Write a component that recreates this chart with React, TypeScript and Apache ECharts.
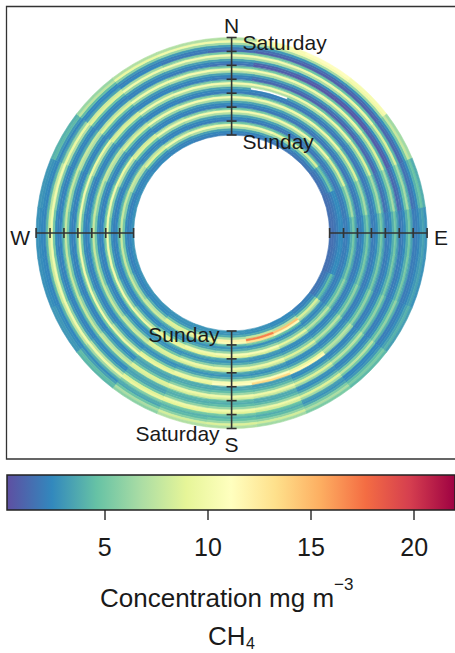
import React, { useEffect, useRef } from "react";
import * as echarts from "echarts";

// ---- data ----
const days = ["Sunday", "Monday", "Tuesday", "Wednesday", "Thursday", "Friday", "Saturday"];
const directions = [0, 15, 30, 45, 60, 75, 90, 105, 120, 135, 150, 165, 180, 195, 210, 225, 240, 255, 270, 285, 300, 315, 330, 345];
const compassLabels = ["N", "E", "S", "W"];
const compassAngles = [0, 90, 180, 270];
const colourTicks = [5, 10, 15, 20];
const colourMin = 0.26;
const colourMax = 21.98;
const spectral = ["#5E4FA2", "#3288BD", "#66C2A5", "#ABDDA4", "#E6F598", "#FFFFBF", "#FEE08B", "#FDAE61", "#F46D43", "#D53E4F", "#9E0142"];

// rows of values, one per direction (N, clockwise); six rows per day, inner -> outer
const troughAfterBright = [2.0, 1.9, 1.8, 1.8, 1.8, 1.9, 2.0, 2.0, 2.1, 2.3, 2.7, 3.2, 3.6, 3.8, 4.0, 4.4, 4.8, 5.0, 5.0, 4.8, 4.0, 3.0, 2.4, 2.1];
const troughAfterFaint = [2.0, 1.9, 1.8, 1.8, 1.8, 1.9, 2.0, 2.0, 2.1, 2.3, 2.7, 3.2, 3.6, 3.7, 3.8, 4.0, 4.2, 4.3, 4.3, 4.2, 3.7, 2.9, 2.4, 2.1];
const rising2 = [2.3, 2.2, 2.0, 2.0, 2.0, 2.0, 2.0, 2.0, 2.1, 2.3, 2.5, 2.7, 2.8, 2.8, 2.7, 2.5, 2.4, 2.4, 2.4, 2.4, 2.3, 2.2, 2.2, 2.3];
const rising3 = [3.4, 3.4, 3.3, 3.2, 3.0, 2.8, 2.5, 2.5, 2.7, 3.0, 3.3, 3.6, 3.7, 3.5, 3.0, 2.5, 2.2, 2.1, 2.1, 2.1, 2.3, 2.7, 3.1, 3.3];
const rising4 = [7.0, 7.0, 6.8, 6.5, 5.8, 4.8, 3.8, 3.8, 4.4, 5.2, 5.8, 6.2, 6.3, 5.9, 5.0, 3.8, 3.1, 2.7, 2.6, 2.8, 3.5, 4.8, 6.2, 6.8];
const peak5 = [10.3, 10.3, 10.0, 9.7, 8.6, 6.6, 5.0, 5.2, 6.0, 7.4, 8.7, 9.8, 10.0, 9.8, 8.8, 7.2, 6.0, 5.2, 5.0, 5.6, 7.0, 8.8, 10.0, 10.3];
const peakBright6 = [5.0, 5.0, 4.8, 4.6, 4.2, 3.8, 3.4, 3.5, 4.0, 5.0, 6.5, 8.2, 8.8, 9.0, 9.4, 9.8, 10.0, 10.0, 10.0, 10.0, 9.5, 8.0, 6.5, 5.5];
const peakFaint6 = [5.0, 5.0, 4.8, 4.6, 4.2, 3.8, 3.4, 3.5, 4.0, 5.0, 6.3, 7.8, 8.2, 8.4, 8.3, 8.0, 7.8, 7.8, 7.8, 7.8, 7.8, 7.2, 6.2, 5.5];

const sunday = [
  [2.0, 1.9, 1.8, 1.7, 1.6, 1.5, 1.5, 1.5, 1.7, 2.1, 2.5, 2.8, 2.9, 2.9, 2.9, 2.9, 2.9, 2.9, 2.9, 2.9, 2.7, 2.5, 2.3, 2.1],
  [2.3, 2.2, 2.0, 1.9, 1.7, 1.5, 1.5, 1.5, 1.7, 2.2, 2.5, 2.7, 2.8, 2.8, 2.7, 2.5, 2.4, 2.4, 2.4, 2.4, 2.3, 2.2, 2.2, 2.3],
  [3.4, 3.4, 3.2, 2.8, 2.0, 1.7, 1.7, 1.7, 2.0, 2.9, 3.3, 3.6, 3.7, 3.5, 3.0, 2.5, 2.2, 2.1, 2.1, 2.1, 2.3, 2.7, 3.1, 3.3],
  [7.0, 7.0, 6.5, 5.5, 3.2, 2.0, 2.0, 2.0, 3.0, 5.2, 7.0, 7.8, 7.0, 5.9, 5.0, 3.8, 3.1, 2.7, 2.6, 2.8, 3.5, 4.8, 6.2, 6.8],
  [10.3, 10.3, 9.5, 8.5, 5.0, 2.5, 2.5, 2.5, 4.5, 8.5, 14.5, 17.0, 12.0, 9.8, 8.8, 7.2, 6.0, 5.2, 5.0, 5.6, 7.0, 8.8, 10.0, 10.3],
  [5.0, 5.0, 4.6, 4.2, 3.2, 2.5, 2.5, 2.5, 3.2, 6.5, 11.5, 13.0, 10.5, 8.4, 8.3, 8.0, 7.8, 7.8, 7.8, 7.8, 7.8, 7.2, 6.2, 5.5],
];
const monday = [
  [2.0, 1.9, 1.8, 1.8, 1.8, 1.9, 2.0, 2.0, 2.1, 3.0, 4.5, 5.0, 4.2, 3.8, 3.8, 4.0, 4.2, 4.3, 4.3, 4.2, 3.7, 2.9, 2.4, 2.1],
  rising2,
  rising3,
  rising4,
  [10.3, 10.3, 10.0, 9.7, 8.6, 6.6, 5.0, 5.2, 6.0, 7.4, 9.2, 10.5, 10.5, 10.0, 8.8, 7.2, 6.0, 5.2, 5.0, 5.6, 7.0, 8.8, 10.0, 10.3],
  peakBright6,
];
const tuesday = [troughAfterBright, rising2, rising3, rising4, peak5, peakFaint6];
const wednesday = [
  troughAfterFaint,
  rising2,
  [3.4, null, 3.3, 3.2, 3.0, 2.8, 2.5, 2.5, 2.7, 3.0, 3.3, 3.6, 3.7, 3.5, 3.0, 2.5, 2.2, 2.1, 2.1, 2.1, 2.3, 2.7, 3.1, 3.3],
  rising4,
  [10.3, 10.3, 10.0, 9.7, 8.6, 6.6, 5.0, 5.2, 6.0, 7.4, 9.5, 11.0, 10.5, 9.8, 8.8, 7.2, 6.0, 5.2, 5.0, 5.6, 7.0, 8.8, 10.0, 10.3],
  [5.0, 5.0, 4.8, 4.6, 4.2, 3.8, 3.4, 3.5, 4.0, 6.0, 11.5, 13.5, 11.0, 9.2, 9.4, 9.8, 10.0, 10.0, 10.0, 10.0, 9.5, 8.0, 6.5, 5.5],
];
const thursday = [
  [1.9, 1.2, 1.0, 1.0, 1.2, 1.5, 2.0, 2.0, 2.1, 2.3, 2.7, 3.2, 3.6, 3.8, 4.0, 4.4, 4.8, 5.0, 5.0, 4.8, 4.0, 3.0, 2.4, 2.1],
  [2.2, 1.7, 1.5, 1.5, 1.6, 1.9, 2.0, 2.0, 2.1, 2.3, 2.5, 3.4, 3.6, 3.6, 3.3, 2.5, 2.4, 2.4, 2.4, 2.4, 2.3, 2.2, 2.2, 2.3],
  [3.4, 3.3, 3.1, 3.0, 2.9, 2.8, 2.5, 2.5, 2.7, 3.0, 3.6, 4.2, 4.4, 4.2, 3.5, 2.5, 2.2, 2.1, 2.1, 2.1, 2.3, 2.7, 3.1, 3.3],
  rising4,
  peak5,
  peakFaint6,
];
const friday = [
  [1.6, 0.8, 0.6, 0.6, 0.8, 1.2, 1.9, 2.0, 2.1, 2.3, 2.8, 3.8, 4.2, 4.3, 4.0, 4.0, 4.2, 4.3, 4.3, 4.2, 3.7, 2.9, 2.3, 2.0],
  [2.0, 1.1, 0.9, 0.9, 1.1, 1.5, 2.0, 2.0, 2.1, 2.3, 2.6, 3.6, 3.8, 3.8, 3.4, 2.5, 2.4, 2.4, 2.4, 2.4, 2.3, 2.2, 2.2, 2.2],
  [3.4, 3.2, 2.8, 2.7, 2.6, 2.6, 2.5, 2.5, 2.7, 3.0, 3.6, 4.2, 4.4, 4.2, 3.5, 2.5, 2.2, 2.1, 2.1, 2.1, 2.3, 2.7, 3.1, 3.3],
  rising4,
  peak5,
  peakBright6,
];
const saturday = [
  [1.4, 1.0, 0.9, 1.0, 1.2, 1.6, 2.0, 2.0, 2.1, 2.4, 3.3, 4.6, 5.0, 5.0, 5.5, 6.5, 7.5, 8.0, 8.0, 7.5, 6.0, 3.5, 2.4, 1.9],
  [1.9, 1.5, 1.3, 1.3, 1.5, 1.8, 2.0, 2.0, 2.1, 2.4, 2.8, 3.8, 4.0, 4.0, 3.8, 3.8, 4.0, 4.2, 4.2, 4.0, 3.3, 2.4, 2.1, 2.0],
  [3.2, 3.0, 2.9, 2.8, 2.7, 2.5, 2.3, 2.3, 2.6, 3.0, 3.5, 4.3, 4.6, 4.3, 3.5, 2.6, 2.4, 2.3, 2.3, 2.3, 2.3, 2.5, 3.0, 3.1],
  [6.5, 6.8, 6.6, 6.2, 5.2, 4.0, 3.0, 3.0, 3.4, 4.4, 5.4, 6.0, 6.2, 5.8, 4.8, 3.3, 2.6, 2.4, 2.4, 2.5, 3.0, 4.5, 5.8, 6.3],
  [10.0, 10.3, 10.3, 9.8, 7.8, 4.8, 3.4, 3.4, 4.0, 5.3, 6.8, 8.2, 8.6, 8.3, 6.8, 4.4, 3.0, 2.6, 2.6, 2.8, 4.3, 7.5, 9.5, 10.0],
  [7.0, 10.5, 11.0, 10.3, 6.5, 3.8, 2.8, 2.8, 3.3, 4.3, 5.3, 6.5, 7.0, 7.0, 5.8, 4.2, 3.0, 2.8, 2.8, 3.0, 4.0, 6.2, 7.0, 7.0],
];

// ---- layout ----
const CX = 231.6;
const CY = 233;
const R_IN = 98;
const R_OUT = 195.5;
const FONT = "'Liberation Sans', Arial, Helvetica, sans-serif";
const INK = "#1a1a1a";

export default function App() {
  const ref = useRef<HTMLDivElement>(null);
  useEffect(() => {
    document.body.style.margin = "0";
    const chart = echarts.init(ref.current!, null, { renderer: "svg" });

    const dayGrids = [sunday, monday, tuesday, wednesday, thursday, friday, saturday];
    const binsPerDay = sunday.length;
    const cells: number[][] = [];
    dayGrids.forEach((grid, d) =>
      grid.forEach((row: any[], b) =>
        row.forEach((v, j) => {
          if (v === null || v === undefined) return;
          cells.push([d + b / binsPerDay, directions[j], v as number]);
        })
      )
    );
    const halfStep = 360 / directions.length / 2;

    const axisItems: number[][] = [];
    compassAngles.forEach((a) => {
      for (let k = 0; k <= days.length; k++) axisItems.push([k, a]);
    });

    const txt = (text: string, x: number, y: number, size: number, align: string) => ({
      type: "text",
      x,
      y,
      z: 100,
      silent: true,
      style: { text, fontSize: size, fontFamily: FONT, fill: INK, align, verticalAlign: "middle" },
    });

    const option: any = {
      animation: false,
      backgroundColor: "#ffffff",
      polar: { center: [CX, CY], radius: [R_IN, R_OUT] },
      angleAxis: {
        type: "value",
        min: 0,
        max: 360,
        startAngle: 90,
        clockwise: true,
        axisLine: { show: false },
        axisTick: { show: false },
        axisLabel: { show: false },
        splitLine: { show: false },
      },
      radiusAxis: {
        type: "value",
        min: 0,
        max: days.length,
        axisLine: { show: false },
        axisTick: { show: false },
        axisLabel: { show: false },
        splitLine: { show: false },
        splitArea: { show: false },
      },
      grid: { left: 7, top: 475, width: 449, height: 35 },
      xAxis: {
        type: "value",
        min: colourMin,
        max: colourMax,
        position: "bottom",
        axisLine: { show: false },
        splitLine: { show: false },
        axisTick: {
          show: true,
          length: 10,
          customValues: colourTicks,
          lineStyle: { color: "#333", width: 1.5 },
        },
        axisLabel: {
          customValues: colourTicks,
          fontSize: 25,
          fontFamily: FONT,
          color: INK,
          margin: 24,
        },
      },
      yAxis: { type: "value", min: 0, max: 1, show: false },
      visualMap: {
        type: "continuous",
        show: false,
        min: colourMin,
        max: colourMax,
        dimension: 2,
        seriesIndex: 0,
        inRange: { color: spectral },
      },
      series: [
        {
          type: "custom",
          coordinateSystem: "polar",
          data: cells,
          silent: true,
          renderItem: (params: any, api: any) => {
            const cs = params.coordSys;
            const rLo = api.value(0);
            const ang = api.value(1);
            const pA = api.coord([rLo, ang - halfStep]);
            const pB = api.coord([rLo + 1 / binsPerDay, ang + halfStep]);
            const r0 = Math.hypot(pA[0] - cs.cx, pA[1] - cs.cy);
            const r = Math.hypot(pB[0] - cs.cx, pB[1] - cs.cy);
            const a0 = Math.atan2(pA[1] - cs.cy, pA[0] - cs.cx);
            const a1 = Math.atan2(pB[1] - cs.cy, pB[0] - cs.cx);
            let d = a1 - a0;
            while (d > Math.PI) d -= 2 * Math.PI;
            while (d < -Math.PI) d += 2 * Math.PI;
            const s = d >= 0 ? a0 : a0 + d;
            const color = api.visual("color");
            return {
              type: "sector",
              shape: { cx: cs.cx, cy: cs.cy, r0, r, startAngle: s, endAngle: s + Math.abs(d), clockwise: true },
              style: { fill: color, stroke: color, lineWidth: 0.6 },
            };
          },
          z: 2,
        },
        {
          type: "custom",
          coordinateSystem: "polar",
          data: axisItems,
          silent: true,
          renderItem: (params: any, api: any) => {
            const cs = params.coordSys;
            const k = api.value(0);
            const ang = api.value(1);
            const p = api.coord([k, ang]);
            const dist = Math.hypot(p[0] - cs.cx, p[1] - cs.cy);
            const ux = (p[0] - cs.cx) / dist;
            const uy = (p[1] - cs.cy) / dist;
            const nx = -uy;
            const ny = ux;
            const st = { stroke: "#333", lineWidth: 1.6 };
            const children: any[] = [
              { type: "line", shape: { x1: p[0] - 5 * nx, y1: p[1] - 5 * ny, x2: p[0] + 5 * nx, y2: p[1] + 5 * ny }, style: st },
            ];
            if (k === 0) {
              const q = api.coord([days.length, ang]);
              children.push({ type: "line", shape: { x1: p[0], y1: p[1], x2: q[0], y2: q[1] }, style: st });
            }
            return { type: "group", children };
          },
          z: 5,
        },
        {
          type: "custom",
          coordinateSystem: "cartesian2d",
          data: [[colourMin, colourMax]],
          silent: true,
          renderItem: (params: any, api: any) => {
            const p0 = api.coord([api.value(0), 0]);
            const p1 = api.coord([api.value(1), 1]);
            return {
              type: "rect",
              shape: { x: p0[0], y: p1[1], width: p1[0] - p0[0], height: p0[1] - p1[1] },
              style: {
                fill: new echarts.graphic.LinearGradient(
                  0, 0, 1, 0,
                  spectral.map((c, i) => ({ offset: i / (spectral.length - 1), color: c }))
                ),
                stroke: "#222",
                lineWidth: 1.5,
              },
            };
          },
        },
      ],
      graphic: [
        {
          type: "rect",
          silent: true,
          z: -1,
          shape: { x: 6.5, y: 6.5, width: 470, height: 452.5 },
          style: { fill: "none", stroke: "#333", lineWidth: 1.3 },
        },
        txt(compassLabels[0], CX, CY - R_OUT - 12, 21, "center"),
        txt(compassLabels[1], CX + R_OUT + 14, CY + 4, 21, "center"),
        txt(compassLabels[2], CX, CY + R_OUT + 16, 21, "center"),
        txt(compassLabels[3], CX - R_OUT - 16, CY + 4, 21, "center"),
        txt(days[6], CX + 11, CY - R_OUT + 5, 21, "left"),
        txt(days[0], CX + 11, CY - R_IN + 6, 21, "left"),
        txt(days[0], CX - 12, CY + R_IN + 3, 21, "right"),
        txt(days[6], CX - 12, CY + R_OUT + 5, 21, "right"),
        txt("Concentration mg m", 100, 598, 26, "left"),
        txt("\u22123", 334, 584, 17, "left"),
        txt("CH", 208, 636, 26, "left"),
        txt("4", 246, 643, 16, "left"),
      ],
    };

    chart.setOption(option);
    return () => chart.dispose();
  }, []);
  return <div ref={ref} style={{ width: 455, height: 653 }} />;
}
